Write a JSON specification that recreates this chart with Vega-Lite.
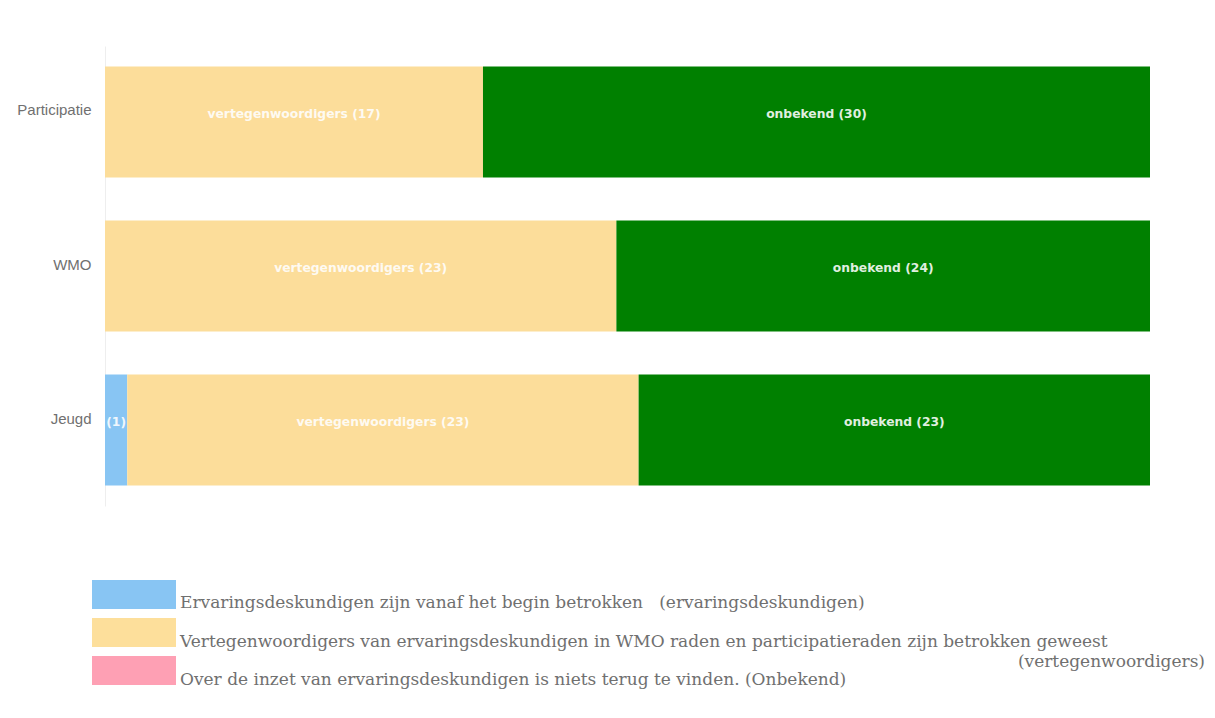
{
  "$schema": "https://vega.github.io/schema/vega-lite/v6.json",
  "background": "#ffffff",
  "padding": {"left": 16, "top": 46, "right": 5, "bottom": 5},
  "spacing": 74,
  "config": {"view": {"stroke": null}},
  "resolve": {"scale": {"color": "independent"}},
  "vconcat": [
    {
      "width": 1045,
      "height": 460,
      "data": {
        "values": [
          {"categorie": "Participatie", "type": "vertegenwoordigers", "volgorde": 1, "aantal": 17, "label": "vertegenwoordigers (17)"},
          {"categorie": "Participatie", "type": "onbekend", "volgorde": 2, "aantal": 30, "label": "onbekend (30)"},
          {"categorie": "WMO", "type": "vertegenwoordigers", "volgorde": 1, "aantal": 23, "label": "vertegenwoordigers (23)"},
          {"categorie": "WMO", "type": "onbekend", "volgorde": 2, "aantal": 24, "label": "onbekend (24)"},
          {"categorie": "Jeugd", "type": "ervaringsdeskundigen", "volgorde": 0, "aantal": 1, "label": "(1)"},
          {"categorie": "Jeugd", "type": "vertegenwoordigers", "volgorde": 1, "aantal": 23, "label": "vertegenwoordigers (23)"},
          {"categorie": "Jeugd", "type": "onbekend", "volgorde": 2, "aantal": 23, "label": "onbekend (23)"}
        ]
      },
      "encoding": {
        "y": {
          "field": "categorie",
          "type": "nominal",
          "sort": ["Participatie", "WMO", "Jeugd"],
          "scale": {"paddingInner": 0.279, "paddingOuter": 0.133},
          "axis": {
            "title": null,
            "ticks": false,
            "tickSize": 0,
            "domain": true,
            "domainColor": "#eeeeee",
            "labelPadding": 14,
            "labelFont": "Liberation Sans",
            "labelFontSize": 15,
            "labelColor": "#707070",
            "labelOffset": -11.5,
            "grid": false
          }
        }
      },
      "layer": [
        {
          "mark": {"type": "bar"},
          "encoding": {
            "x": {"field": "aantal", "type": "quantitative", "stack": "zero", "scale": {"domain": [0, 47], "nice": false}, "axis": null},
            "color": {
              "field": "type",
              "type": "nominal",
              "scale": {"domain": ["ervaringsdeskundigen", "vertegenwoordigers", "onbekend"], "range": ["#88c5f3", "#fcdd9a", "#008000"]},
              "legend": null
            },
            "order": {"field": "volgorde", "type": "quantitative"}
          }
        },
        {
          "mark": {"type": "text", "font": "DejaVu Sans", "fontWeight": "bold", "fontSize": 12.3, "color": "#ffffff", "opacity": 0.88, "baseline": "middle", "align": "center", "dy": -8},
          "encoding": {
            "x": {"field": "aantal", "type": "quantitative", "stack": "zero", "bandPosition": 0.5},
            "detail": {"field": "type", "type": "nominal"},
            "order": {"field": "volgorde", "type": "quantitative"},
            "text": {"field": "label", "type": "nominal"}
          }
        }
      ]
    },
    {
      "width": 1100,
      "height": 105,
      "data": {
        "values": [
          {"sleutel": "ervaringsdeskundigen", "deel": "hoofd", "tekst": "Ervaringsdeskundigen zijn vanaf het begin betrokken \u00a0 (ervaringsdeskundigen)"},
          {"sleutel": "vertegenwoordigers", "deel": "hoofd", "tekst": "Vertegenwoordigers van ervaringsdeskundigen in WMO raden en participatieraden zijn betrokken geweest"},
          {"sleutel": "vertegenwoordigers", "deel": "vervolg", "tekst": "(vertegenwoordigers)"},
          {"sleutel": "onbekend", "deel": "hoofd", "tekst": "Over de inzet van ervaringsdeskundigen is niets terug te vinden. (Onbekend)"}
        ]
      },
      "encoding": {
        "y": {
          "field": "sleutel",
          "type": "nominal",
          "sort": ["ervaringsdeskundigen", "vertegenwoordigers", "onbekend"],
          "scale": {"paddingInner": 0.237, "paddingOuter": 0},
          "axis": null
        }
      },
      "layer": [
        {
          "transform": [{"filter": "datum.deel === 'hoofd'"}],
          "mark": {"type": "bar"},
          "encoding": {
            "x": {"datum": -13, "type": "quantitative", "scale": {"domain": [0, 1100], "nice": false, "zero": false}, "axis": null},
            "x2": {"datum": 71},
            "color": {
              "field": "sleutel",
              "type": "nominal",
              "scale": {"domain": ["ervaringsdeskundigen", "vertegenwoordigers", "onbekend"], "range": ["#88c5f3", "#fddf9b", "#fea0b4"]},
              "legend": null
            }
          }
        },
        {
          "transform": [{"filter": "datum.deel === 'hoofd'"}],
          "mark": {"type": "text", "align": "left", "baseline": "alphabetic", "dy": 14, "font": "DejaVu Serif", "fontSize": 17, "color": "#707070"},
          "encoding": {
            "x": {"datum": 75, "type": "quantitative"},
            "text": {"field": "tekst", "type": "nominal"}
          }
        },
        {
          "transform": [{"filter": "datum.deel === 'vervolg'"}],
          "mark": {"type": "text", "align": "right", "baseline": "alphabetic", "dy": 34.5, "font": "DejaVu Serif", "fontSize": 17, "color": "#707070"},
          "encoding": {
            "x": {"datum": 1100, "type": "quantitative"},
            "text": {"field": "tekst", "type": "nominal"}
          }
        }
      ]
    }
  ]
}
